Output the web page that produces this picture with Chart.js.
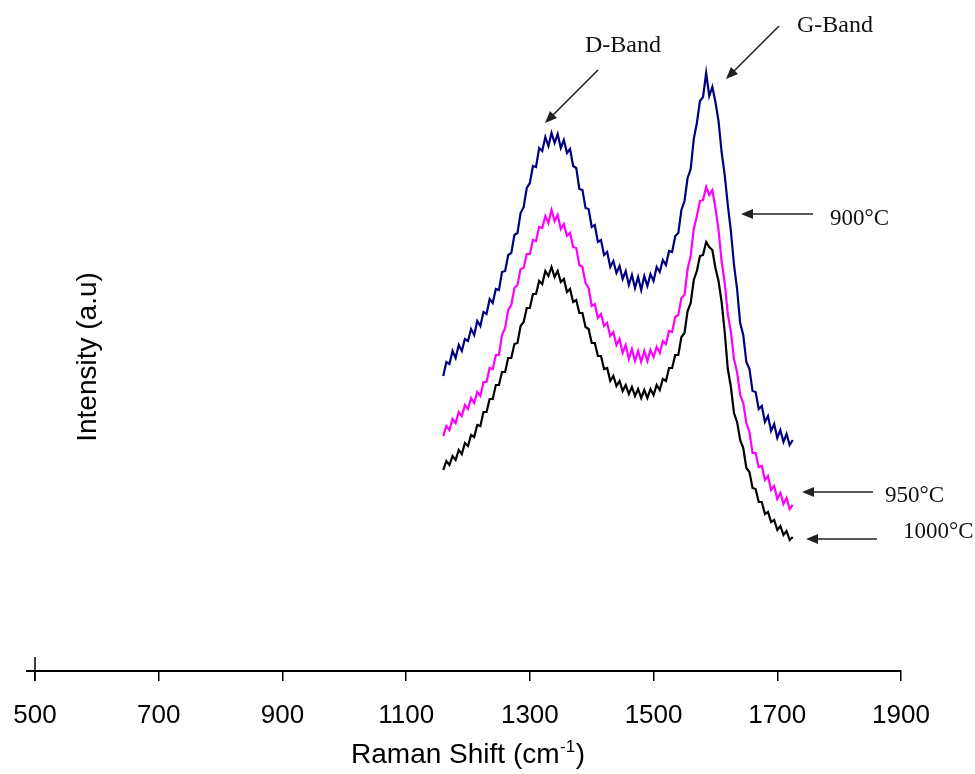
<!DOCTYPE html>
<html><head><meta charset="utf-8">
<script src="https://cdn.jsdelivr.net/npm/chart.js@4.4.1/dist/chart.umd.min.js"></script>
<style>html,body{margin:0;padding:0;background:#fff;}#wrap{width:975px;height:774px;}</style>
</head><body><div id="wrap"><canvas id="c" width="975" height="774"></canvas></div>
<script>
const ramanShift = [
1160,1165,1170,1175,1180,1185,1190,1195,1200,1205,
1210,1215,1220,1225,1230,1235,1240,1245,1250,1255,
1260,1265,1270,1275,1280,1285,1290,1295,1300,1305,
1310,1315,1320,1325,1330,1335,1340,1345,1350,1355,
1360,1365,1370,1375,1380,1385,1390,1395,1400,1405,
1410,1415,1420,1425,1430,1435,1440,1445,1450,1455,
1460,1465,1470,1475,1480,1485,1490,1495,1500,1505,
1510,1515,1520,1525,1530,1535,1540,1545,1550,1555,
1560,1565,1570,1575,1580,1585,1590,1595,1600,1605,
1610,1615,1620,1625,1630,1635,1640,1645,1650,1655,
1660,1665,1670,1675,1680,1685,1690,1695,1700,1705,
1710,1715,1720,1725];
const intensity900 = [
590,618,614,640,626,652,640,664,660,684,
672,700,690,718,714,744,736,764,762,798,
800,832,836,872,876,916,928,966,976,1010,
1008,1046,1040,1068,1050,1076,1056,1074,1046,1062,
1036,1044,1010,1006,964,962,926,924,888,892,
858,862,832,838,808,820,796,810,784,800,
772,792,766,788,762,790,770,794,780,808,
798,822,812,840,838,870,876,922,940,986,
1004,1064,1096,1140,1148,1196,1150,1168,1138,1100,
1038,992,932,880,812,764,696,672,618,604,
560,558,524,530,498,510,480,494,466,482,
458,474,452,462];
const intensity950 = [
470,490,482,504,496,518,510,532,524,546,
536,558,550,578,578,606,604,632,632,672,
686,722,732,766,772,804,806,834,834,862,
860,888,886,910,896,922,900,912,884,894,
870,876,848,846,812,808,776,766,730,734,
706,714,690,696,670,678,652,664,636,652,
624,644,620,640,618,640,620,642,628,648,
636,660,654,680,678,708,712,746,752,804,
830,884,910,940,942,968,952,962,926,882,
820,776,714,678,624,598,552,536,496,478,
436,436,408,410,382,390,362,370,344,356,
334,346,324,332];
const intensity1000 = [
402,420,412,430,422,442,434,456,450,472,
468,492,490,518,518,544,544,572,572,598,
598,626,626,654,656,690,698,726,726,754,
754,780,774,800,790,808,788,800,778,784,
758,764,738,742,716,716,688,684,656,656,
630,630,604,606,580,590,570,580,560,572,
554,568,550,564,546,562,546,564,552,572,
562,584,580,606,606,632,632,668,676,720,
736,782,800,830,832,858,848,842,806,780,
738,678,604,568,516,498,462,446,406,398,
366,364,338,338,314,318,298,302,282,290,
272,280,262,268];
const xTickValues = [500,700,900,1100,1300,1500,1700,1900];
const seriesNames = ['900°C','950°C','1000°C'];

const SANS = '"Liberation Sans", Arial, Helvetica, sans-serif';
const SERIF = '"Liberation Serif", "Times New Roman", Times, serif';

function pts(ys){ return ramanShift.map((x,i)=>({x:x,y:ys[i]})); }

function arrow(ctx,x1,y1,x2,y2){
  const a = Math.atan2(y2-y1,x2-x1), L=12, W=5;
  ctx.beginPath(); ctx.moveTo(x1,y1);
  ctx.lineTo(x2-Math.cos(a)*L*0.8, y2-Math.sin(a)*L*0.8); ctx.stroke();
  ctx.beginPath(); ctx.moveTo(x2,y2);
  ctx.lineTo(x2-Math.cos(a)*L+Math.sin(a)*W, y2-Math.sin(a)*L-Math.cos(a)*W);
  ctx.lineTo(x2-Math.cos(a)*L-Math.sin(a)*W, y2-Math.sin(a)*L+Math.cos(a)*W);
  ctx.closePath(); ctx.fill();
}

const decor = {
  id:'decor',
  afterDraw(chart){
    const ctx = chart.ctx, xs = chart.scales.x, ca = chart.chartArea;
    const x0 = xs.getPixelForValue(500);
    ctx.save();
    ctx.strokeStyle='#000'; ctx.fillStyle='#000';
    ctx.lineWidth=2;
    ctx.beginPath(); ctx.moveTo(x0-9, ca.bottom); ctx.lineTo(x0, ca.bottom); ctx.stroke();
    ctx.lineWidth=1.5;
    ctx.beginPath(); ctx.moveTo(x0, ca.bottom-14); ctx.lineTo(x0, ca.bottom+10); ctx.stroke();
    ctx.save();
    ctx.translate(96, 357); ctx.rotate(-Math.PI/2);
    ctx.font = '28px '+SANS; ctx.textAlign='center'; ctx.textBaseline='alphabetic';
    ctx.fillText('Intensity (a.u)', 0, 0);
    ctx.restore();
    const main = 'Raman Shift (cm', sup = '-1', end = ')';
    ctx.font = '28px '+SANS; const w1 = ctx.measureText(main).width, w3 = ctx.measureText(end).width;
    ctx.font = '17px '+SANS; const w2 = ctx.measureText(sup).width;
    const cx = (ca.left+ca.right)/2, total = w1+w2+w3+1;
    let sx = cx - total/2, by = 763;
    ctx.textAlign='left'; ctx.textBaseline='alphabetic';
    ctx.font = '28px '+SANS; ctx.fillText(main, sx, by);
    ctx.font = '17px '+SANS; ctx.fillText(sup, sx+w1+0.5, by-11);
    ctx.font = '28px '+SANS; ctx.fillText(end, sx+w1+w2+1, by);
    ctx.fillStyle='#111';
    ctx.font = '24px '+SERIF;
    ctx.fillText('D-Band', 585, 52);
    ctx.fillText('G-Band', 797, 32);
    ctx.font = '23px '+SERIF;
    ctx.fillText(seriesNames[0], 830, 225);
    ctx.fillText(seriesNames[1], 885, 502);
    ctx.fillText(seriesNames[2], 903, 538);
    ctx.strokeStyle='#222'; ctx.fillStyle='#222'; ctx.lineWidth=1.6;
    arrow(ctx,598,70,545,123);
    arrow(ctx,779,26,726,79);
    arrow(ctx,813,214,741,214);
    arrow(ctx,873,492,802,492);
    arrow(ctx,877,539,806,539);
    ctx.restore();
  }
};

new Chart(document.getElementById('c'), {
  type:'line',
  data:{ datasets:[
    {label:seriesNames[0], data:pts(intensity900), borderColor:'#000080', borderWidth:2.2, pointRadius:0, tension:0, fill:false},
    {label:seriesNames[1], data:pts(intensity950), borderColor:'#FF00FF', borderWidth:2.2, pointRadius:0, tension:0, fill:false},
    {label:seriesNames[2], data:pts(intensity1000), borderColor:'#000000', borderWidth:2.2, pointRadius:0, tension:0, fill:false}
  ]},
  options:{
    responsive:false, animation:false, devicePixelRatio:1,
    layout:{padding:{left:35,right:74,top:21,bottom:0}},
    plugins:{legend:{display:false}, tooltip:{enabled:false}, title:{display:false}},
    scales:{
      x:{type:'linear', min:500, max:1900,
        afterBuildTicks(s){ s.ticks = xTickValues.map(v=>({value:v})); },
        afterFit(s){ s.height = 103; s.paddingLeft = 0; s.paddingRight = 0; },
        ticks:{font:{family:SANS,size:26}, color:'#000', padding:19, maxRotation:0, autoSkip:false,
               callback:(v)=>String(v)},
        grid:{display:true, drawOnChartArea:false, drawTicks:true, tickLength:10, color:'#000', lineWidth:1.5},
        border:{display:true, color:'#000', width:2}
      },
      y:{display:false, min:0, max:1300}
    }
  },
  plugins:[decor]
});
</script></body></html>
